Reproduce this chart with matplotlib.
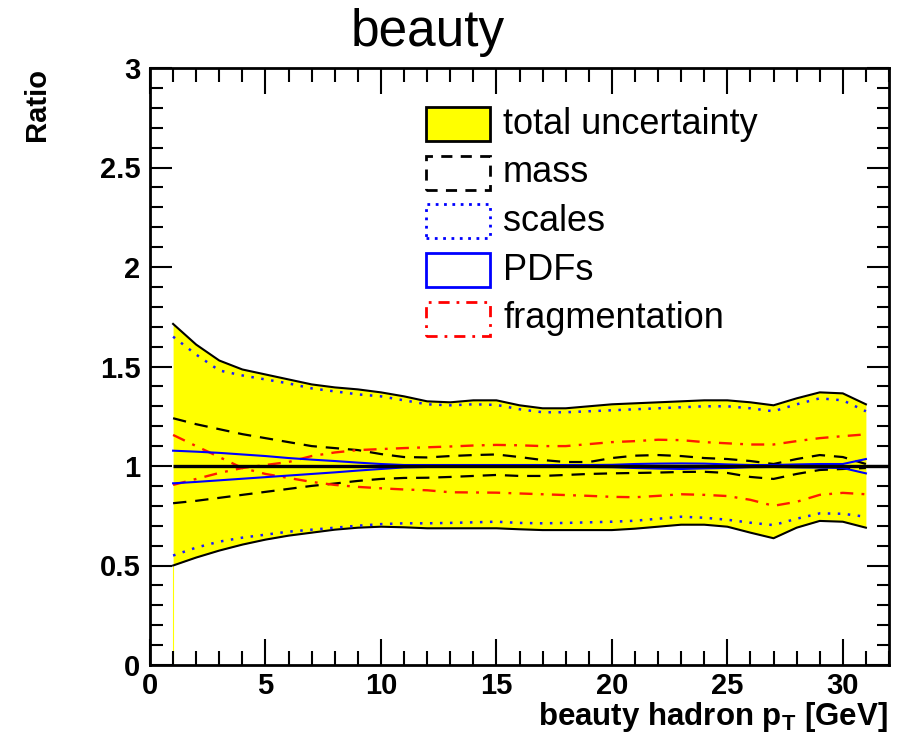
import numpy as np
import matplotlib
matplotlib.use("Agg")
import matplotlib.pyplot as plt
from matplotlib.patches import Rectangle

plt.rcParams['font.family'] = ['Liberation Sans', 'DejaVu Sans']
plt.rcParams['mathtext.fontset'] = 'custom'
plt.rcParams['mathtext.rm'] = 'Liberation Sans:bold'
plt.rcParams['mathtext.bf'] = 'Liberation Sans:bold'

# beauty hadron pT [GeV]
pt = [1, 2, 3, 4, 5, 6, 7, 8, 9, 10, 11, 12, 13, 14, 15, 16,
      17, 18, 19, 20, 21, 22, 23, 24, 25, 26, 27, 28, 29, 30, 31]

# total uncertainty band
total_hi = [1.714, 1.61, 1.53, 1.485, 1.46, 1.435, 1.41, 1.395, 1.385, 1.37, 1.35,
            1.325, 1.32, 1.33, 1.33, 1.305, 1.29, 1.29, 1.30, 1.31, 1.315, 1.32,
            1.325, 1.33, 1.33, 1.32, 1.305, 1.34, 1.37, 1.365, 1.31]
total_lo = [0.50, 0.54, 0.575, 0.605, 0.63, 0.65, 0.665, 0.68, 0.69, 0.695, 0.692,
            0.687, 0.687, 0.687, 0.687, 0.682, 0.678, 0.678, 0.678, 0.678, 0.685,
            0.695, 0.705, 0.705, 0.695, 0.665, 0.637, 0.69, 0.724, 0.72, 0.69]

# scales
scales_hi = [1.65, 1.56, 1.48, 1.455, 1.435, 1.415, 1.39, 1.375, 1.36, 1.35, 1.33,
             1.31, 1.305, 1.31, 1.307, 1.285, 1.27, 1.27, 1.275, 1.28, 1.285, 1.29,
             1.295, 1.30, 1.30, 1.29, 1.275, 1.31, 1.34, 1.33, 1.275]
scales_lo = [0.55, 0.59, 0.62, 0.64, 0.655, 0.67, 0.68, 0.69, 0.70, 0.708, 0.712,
             0.712, 0.714, 0.717, 0.72, 0.714, 0.712, 0.714, 0.717, 0.72, 0.725,
             0.735, 0.745, 0.74, 0.73, 0.715, 0.703, 0.735, 0.762, 0.76, 0.745]

# mass
mass_hi = [1.24, 1.21, 1.185, 1.16, 1.14, 1.12, 1.10, 1.09, 1.08, 1.06, 1.045,
           1.043, 1.05, 1.055, 1.058, 1.045, 1.03, 1.02, 1.02, 1.04, 1.052, 1.055,
           1.05, 1.04, 1.035, 1.025, 1.01, 1.035, 1.055, 1.045, 1.01]
mass_lo = [0.813, 0.825, 0.84, 0.855, 0.87, 0.885, 0.90, 0.912, 0.925, 0.935, 0.94,
           0.941, 0.945, 0.95, 0.955, 0.95, 0.95, 0.955, 0.96, 0.963, 0.965, 0.967,
           0.97, 0.971, 0.965, 0.945, 0.935, 0.96, 0.98, 0.985, 0.99]

# fragmentation (the two curves cross around 4 GeV)
frag_a = [1.156, 1.10, 1.045, 0.99, 0.96, 0.94, 0.92, 0.905, 0.895, 0.888, 0.882,
          0.878, 0.868, 0.867, 0.866, 0.862, 0.858, 0.854, 0.85, 0.845, 0.843, 0.85,
          0.858, 0.855, 0.849, 0.83, 0.80, 0.82, 0.855, 0.865, 0.858]
frag_b = [0.905, 0.935, 0.965, 0.99, 1.005, 1.02, 1.05, 1.068, 1.08, 1.085, 1.09,
          1.094, 1.098, 1.103, 1.106, 1.104, 1.10, 1.10, 1.11, 1.12, 1.125, 1.132,
          1.13, 1.12, 1.114, 1.108, 1.108, 1.125, 1.14, 1.15, 1.159]

# PDFs
pdf_hi = [1.077, 1.072, 1.066, 1.058, 1.05, 1.04, 1.032, 1.025, 1.017, 1.01, 1.005,
          1.005, 1.005, 1.005, 1.005, 1.005, 1.005, 1.005, 1.005, 1.006, 1.01, 1.012,
          1.013, 1.012, 1.008, 1.005, 1.005, 1.008, 1.01, 1.01, 1.035]
pdf_lo = [0.913, 0.92, 0.928, 0.936, 0.944, 0.952, 0.96, 0.968, 0.977, 0.985, 0.993,
          0.995, 0.995, 0.995, 0.995, 0.995, 0.995, 0.995, 0.995, 0.994, 0.99, 0.987,
          0.985, 0.988, 0.99, 0.994, 0.995, 0.993, 0.992, 0.99, 0.963]

central = 1.0
labels = ['total uncertainty', 'mass', 'scales', 'PDFs', 'fragmentation']
yticks = [0, 0.5, 1, 1.5, 2, 2.5, 3]
ytick_labels = ['0', '0.5', '1', '1.5', '2', '2.5', '3']
xticks = [0, 5, 10, 15, 20, 25, 30]

dot = (0, (1, 3))
dash = (0, (6, 4))
dashdot = (0, (5.5, 3.5, 1.2, 3.5))

fig = plt.figure(figsize=(9.02, 7.46), dpi=100)
ax = fig.add_axes([150/902, 81/746, 739/902, 597/746])

ax.fill_between(pt, total_lo, total_hi, color='#ffff00', lw=0, zorder=1)
ax.vlines(pt[0], 0, total_lo[0], color='#ffff00', lw=0.8, zorder=1)
ax.plot(pt, total_hi, color='black', lw=1.5, zorder=2)
ax.plot(pt, total_lo, color='black', lw=1.5, zorder=2)
ax.plot(pt, scales_hi, color='#1a1aff', lw=1.8, ls=dot, zorder=3)
ax.plot(pt, scales_lo, color='#1a1aff', lw=1.8, ls=dot, zorder=3)
ax.plot(pt, mass_hi, color='black', lw=1.6, ls=dash, zorder=3)
ax.plot(pt, mass_lo, color='black', lw=1.6, ls=dash, zorder=3)
ax.plot(pt, frag_a, color='#ff1a00', lw=1.7, ls=dashdot, zorder=3)
ax.plot(pt, frag_b, color='#ff1a00', lw=1.7, ls=dashdot, zorder=3)
ax.plot(pt, pdf_hi, color='blue', lw=1.5, zorder=4)
ax.plot(pt, pdf_lo, color='blue', lw=1.5, zorder=4)
ax.hlines(central, pt[0], 32, color='black', lw=2.4, zorder=5)

ax.set_xlim(0, 32)
ax.set_ylim(0, 3)
ax.set_yticks(yticks)
ax.set_yticklabels(ytick_labels)
ax.set_xticks(xticks)
ax.set_xticks(np.arange(0, 33, 1), minor=True)
ax.set_yticks(np.arange(0, 3.01, 0.1), minor=True)
for s in ax.spines.values():
    s.set_linewidth(2)
ax.tick_params(axis='both', which='both', direction='in', top=True, right=True,
               width=1.5, labelsize=21)
ax.tick_params(axis='x', which='major', length=19, pad=5)
ax.tick_params(axis='x', which='minor', length=10)
ax.tick_params(axis='y', which='major', length=16, pad=7)
ax.tick_params(axis='y', which='minor', length=9)
for lab in ax.get_xticklabels() + ax.get_yticklabels():
    lab.set_fontweight('bold')

# legend
styles = [dict(fc='#ffff00', ec='black', ls='-'),
          dict(fc='none', ec='black', ls=(0, (4, 3))),
          dict(fc='none', ec='blue', ls=(0, (1, 2))),
          dict(fc='none', ec='blue', ls='-'),
          dict(fc='none', ec='red', ls=(0, (4, 2.5, 1, 2.5)))]
for i, (lab, st) in enumerate(zip(labels, styles)):
    yc = 124 + i * 48.7
    x0 = (426 - 150) / 739
    y0 = (665 - yc - 17) / 597
    ax.add_patch(Rectangle((x0, y0), 64 / 739, 34 / 597, transform=ax.transAxes,
                           lw=2, zorder=6, **st))
    ax.text((503 - 150) / 739, (665 - yc) / 597, lab, transform=ax.transAxes,
            fontsize=26, va='center', ha='left', zorder=6)

fig.text(428/902, 1 - 46/746, 'beauty', fontsize=37, ha='center', va='baseline')
fig.text(37/902, 1 - 68/746, 'Ratio', fontsize=21, fontweight='bold', rotation=90,
         ha='center', va='top')
fig.text(888/902, 1 - 725/746, r'beauty hadron p$_\mathbf{T}$ [GeV]', fontsize=22.5,
         fontweight='bold', ha='right', va='baseline')

fig.savefig('out.png', dpi=100)
